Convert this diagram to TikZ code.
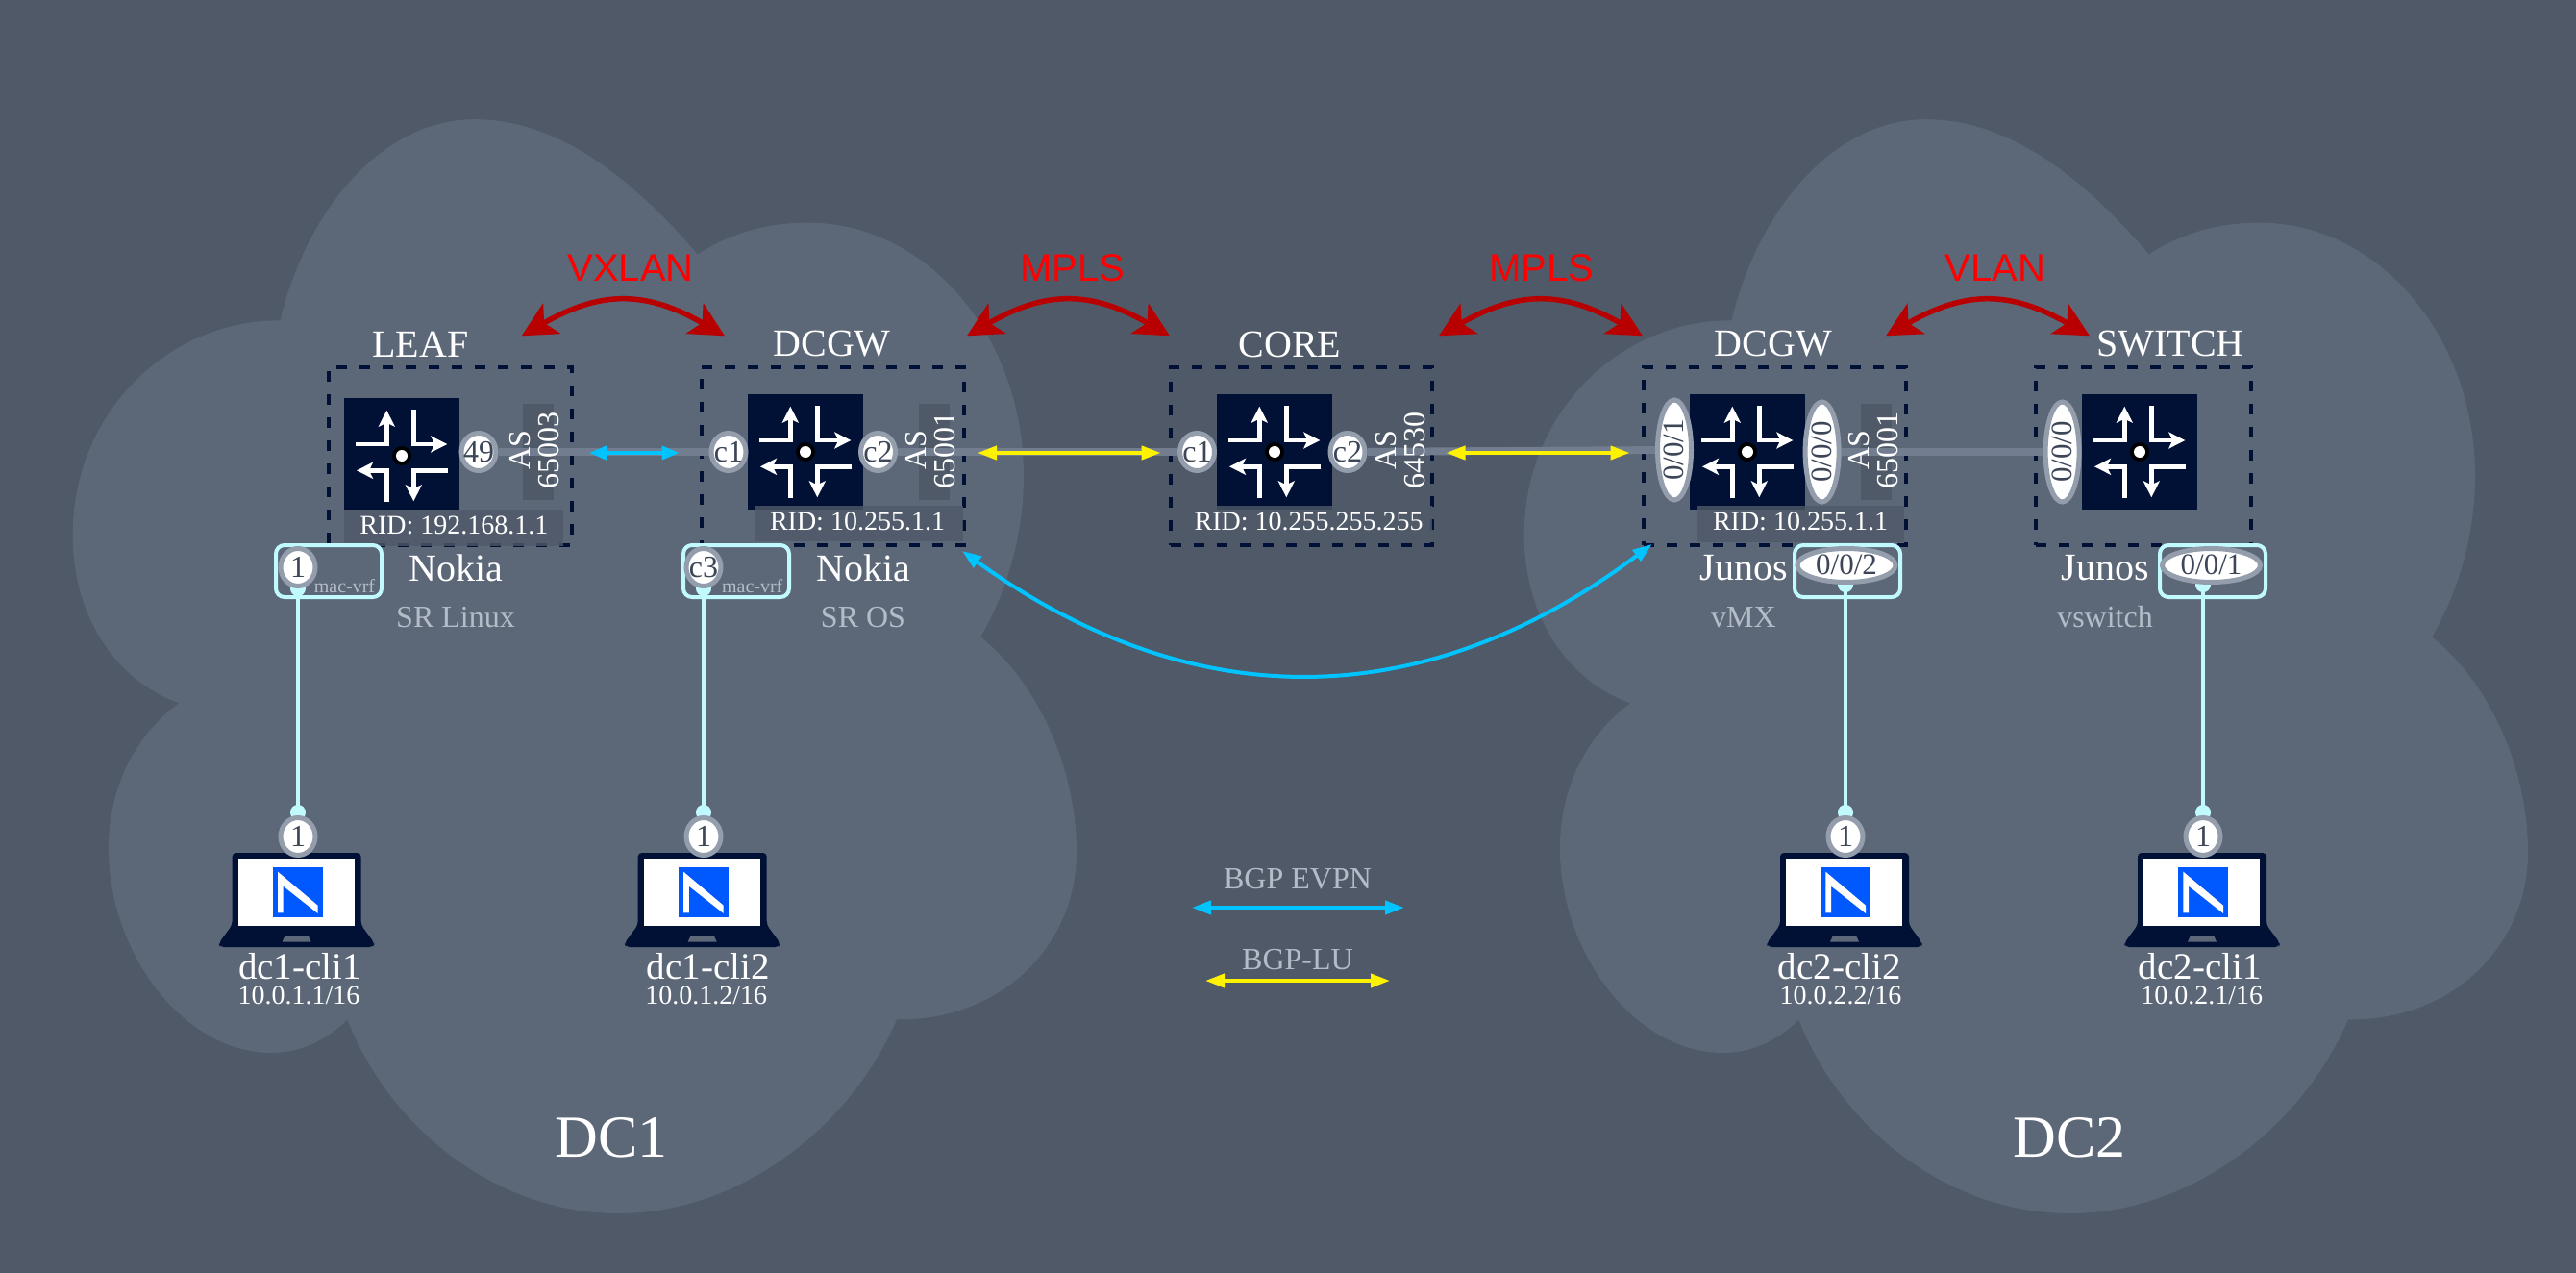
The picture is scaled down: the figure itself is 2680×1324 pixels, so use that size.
\documentclass[tikz,border=0pt]{standalone}
\usepackage{fontspec}
\setmainfont{Liberation Serif}
\newfontfamily\arialf{Liberation Sans}
\usetikzlibrary{arrows.meta,shapes.geometric}
\definecolor{bgc}{HTML}{4F5968}
\definecolor{cloudc}{HTML}{5C6778}
\definecolor{navyc}{HTML}{001135}
\definecolor{ringc}{HTML}{949DAC}
\definecolor{portt}{HTML}{3C4657}
\definecolor{subc}{HTML}{B4BCC8}
\definecolor{stemc}{HTML}{C0FAFF}
\definecolor{evpnc}{HTML}{00C3FF}
\definecolor{darkred}{HTML}{B80000}
\definecolor{bandc}{HTML}{727D8F}
\definecolor{logoc}{HTML}{0058FF}
\pgfdeclarelayer{under}
\pgfdeclarelayer{links}
\pgfsetlayers{under,links,main}
\newcommand\fs[1]{\fontsize{#1pt}{#1pt}\selectfont}
\newcommand\pl[1]{\raisebox{-.32em}[0pt][0pt]{\makebox[0pt][c]{#1}}}
\newcommand\cloudshape{
  (291.4,333.4) .. controls (320,215) and (400,124) .. (493.6,124.2)
  .. controls (590,124) and (670,200) .. (725.7,264.5)
  .. controls (760,242) and (800,231.6) .. (840,231.6)
  .. controls (965,231.6) and (1065,350) .. (1065,495.6)
  .. controls (1065,555) and (1048,615) .. (1020,662.4)
  .. controls (1080,710) and (1120,800) .. (1120,885.9)
  .. controls (1120,985) and (1040,1062) .. (932.9,1060.4)
  .. controls (885,1172) and (770,1262) .. (643.6,1262)
  .. controls (515,1262) and (405,1172) .. (361.4,1060.4)
  .. controls (340,1082) and (312,1095) .. (283,1095)
  .. controls (190,1095) and (112.9,990) .. (112.9,882)
  .. controls (113,820) and (140,765) .. (186.4,731.3)
  .. controls (120,708) and (75.7,640) .. (75.7,556.8)
  .. controls (75.7,425) and (180,332) .. (291.4,333.4) -- cycle}
\tikzset{
  dashbox/.style={draw=navyc,line width=4pt,dash pattern=on 11pt off 13pt,minimum height=185pt,inner sep=0pt},
  routerbody/.style={fill=navyc,inner sep=0pt},
  asrect/.style={fill=bgc,minimum width=32pt,minimum height=100pt,inner sep=0pt},
  ridrect/.style={fill=bgc,fill opacity=.8,inner sep=0pt},
  asl/.style={rotate=90,text=white,font=\fs{32},align=center,inner sep=0pt},
  lab40/.style={text=white,font=\fs{40},inner sep=0pt},
  lab28/.style={text=white,font=\fs{28},inner sep=0pt},
  lab32/.style={text=subc,font=\fs{32},inner sep=0pt},
  red40/.style={text=red,font={\arialf\fs{40}},inner sep=0pt},
  dc/.style={text=white,font=\fs{62},inner sep=0pt},
  vrf/.style={text=subc,font=\fs{20},inner sep=0pt},
  port/.style={ellipse,draw=ringc,fill=white,line width=5pt,text=portt,font=\fs{32},inner sep=0pt,minimum width=36pt,minimum height=39pt},
  vport/.style={port,rotate=90,font=\fs{31},minimum width=104pt,minimum height=35pt},
  hport/.style={port,font=\fs{31},minimum width=102pt,minimum height=35pt},
  vrfbox/.style={draw=stemc,line width=4pt,rounded corners=9pt,minimum width=110pt,minimum height=54pt,inner sep=0pt},
  band/.style={draw=bandc,line width=8pt},
  stem/.style={draw=stemc,fill=stemc,line width=4pt,{Circle[length=16pt,width=16pt]}-{Circle[length=16pt,width=16pt]},shorten <=-8pt,shorten >=-5pt},
  evpn/.style={draw=evpnc,line width=4pt,{Triangle[length=20pt,width=14pt]}-{Triangle[length=20pt,width=14pt]}},
  lu/.style={draw=yellow,line width=4pt,{Triangle[length=20pt,width=14pt]}-{Triangle[length=20pt,width=14pt]}},
  redarc/.style={draw=darkred,line width=5.5pt,{Stealth[length=36pt,width=36pt,inset=9pt]}-{Stealth[length=36pt,width=36pt,inset=9pt]}},
  iconline/.style={draw=white,line width=4.5pt,miter limit=10},
  iconarrow/.style={iconline,-{Stealth[length=17pt,width=17pt,inset=4pt]}}
}
% #1 centre x, #2 centre y of the crossing
\newcommand\rticon[2]{
  \begin{scope}[shift={(#1,#2)}]
    \draw[iconarrow] (-47.7,-12) -- (-15.7,-12) -- (-15.7,-47.3);
    \draw[iconarrow] (12.3,-48) -- (12.3,-12) -- (47.3,-12);
    \draw[iconarrow] (-15.7,48) -- (-15.7,15.3) -- (-47,15.3);
    \draw[iconarrow] (48.3,15.3) -- (12.3,15.3) -- (12.3,47.3);
    \fill[black] (0,0) circle[radius=10pt];
    \fill[white] (0,0) circle[radius=6pt];
  \end{scope}
}
% #1 centre x of the laptop
\newcommand\lapt[1]{
  \begin{scope}[shift={(#1,0)}]
    \fill[navyc,rounded corners=4pt] (-67,962) -- (-67,887) -- (67,887) -- (67,962) -- (81,981) -- (80,985) -- (-80,985) -- (-81,981) -- cycle;
    \fill[white] (-61,893) rectangle (60,963);
    \fill[cloudc] (-12,973) -- (12,973) -- (15,979.5) -- (-15,979.5) -- cycle;
    \fill[logoc] (-25,902.3) rectangle (27,954.3);
    \fill[white] (-19.6,906.7) -- (22,941.7) -- (22,950) -- (-13.9,921.7) -- (-13.9,949.3) -- (-19.6,949.3) -- cycle;
  \end{scope}
}
\begin{document}
\begin{tikzpicture}[x=1pt,y=-1pt]
\useasboundingbox (0,0) rectangle (2680,1324);
\begin{pgfonlayer}{under}
  \fill[bgc] (0,0) rectangle (2680,1324);
  \fill[cloudc] \cloudshape;
  \begin{scope}[shift={(1510,0)}]
    \fill[cloudc] \cloudshape;
  \end{scope}
  \node[dashbox,minimum width=253.4pt] (boxleaf) at (468.3,474.2) {};
  \node[dashbox,minimum width=273.2pt] (boxgwa) at (866.4,474.2) {};
  \node[dashbox,minimum width=272pt] (boxcore) at (1354,474.2) {};
  \node[dashbox,minimum width=272.7pt] (boxgwb) at (1846.3,474.2) {};
  \node[dashbox,minimum width=224.5pt] (boxsw) at (2229.75,474.2) {};
  \node[asrect] (asrleaf) at (560,470) {};
  \node[asrect] (asrgwa) at (972,470) {};
  \node[asrect] (asrgwb) at (1952,470) {};
\end{pgfonlayer}

% routers
\node[routerbody,minimum width=120pt,minimum height=116pt] (rleaf) at (418,472) {};
\rticon{418}{474}
\node[routerbody,minimum width=120pt,minimum height=120pt] (rgwa) at (838,470) {};
\rticon{838}{470}
\node[routerbody,minimum width=120pt,minimum height=120pt] (rcore) at (1326,470) {};
\rticon{1326}{470}
\node[routerbody,minimum width=120pt,minimum height=120pt] (rgwb) at (1818,470) {};
\rticon{1818}{470}
\node[routerbody,minimum width=120pt,minimum height=120pt] (rsw) at (2226,470) {};
\rticon{2226}{470}

% RID
\node[ridrect,minimum width=228pt,minimum height=38pt] (ridra) at (472,549) {};
\node[lab28] (rida) at (472.4,546.5) {RID: 192.168.1.1};
\node[ridrect,minimum width=215.5pt,minimum height=37pt] (ridrb) at (894,544.5) {};
\node[lab28] (ridb) at (892,542.5) {RID: 10.255.1.1};
\node[ridrect,minimum width=224pt,minimum height=38pt] (ridrc) at (1378,545) {};
\node[lab28] (ridc) at (1361.6,542.5) {RID: 10.255.255.255};
\node[ridrect,minimum width=215pt,minimum height=38pt] (ridrd) at (1873.5,545) {};
\node[lab28] (ridd) at (1873,542.5) {RID: 10.255.1.1};

% AS
\node[asl] (asa) at (556.5,468) {AS\\[-2pt]65003};
\node[asl] (asb) at (968.5,468) {AS\\[-2pt]65001};
\node[asl] (asc) at (1457.5,468) {AS\\[-2pt]64530};
\node[asl] (asd) at (1949.5,468) {AS\\[-2pt]65001};

% titles
\node[lab40] (tleaf) at (437.5,358) {LEAF};
\node[lab40] (tgwa) at (865.6,358) {DCGW};
\node[lab40] (tcore) at (1342,358) {CORE};
\node[lab40] (tgwb) at (1845,358) {DCGW};
\node[lab40] (tsw) at (2258,358) {SWITCH};
\node[lab40] (va) at (474,591) {Nokia};
\node[lab40] (vb) at (898,591) {Nokia};
\node[lab40] (vc) at (1814,591) {Junos};
\node[lab40] (vd) at (2190,591) {Junos};
\node[lab32] (sa) at (474,641.7) {SR Linux};
\node[lab32] (sb) at (898,641.7) {SR OS};
\node[lab32] (sc) at (1814,641.7) {vMX};
\node[lab32] (sd) at (2190,641.7) {vswitch};
\node[red40] (xa) at (656,279) {VXLAN};
\node[red40] (xb) at (1116,279) {MPLS};
\node[red40] (xc) at (1604,279) {MPLS};
\node[red40] (xd) at (2076,279) {VLAN};
\node[dc] (dca) at (636,1183) {DC1};
\node[dc] (dcb) at (2153,1183) {DC2};

% mac-vrf and port boxes
\node[vrfbox] (vrfa) at (342,594) {};
\node[vrfbox] (vrfb) at (766,594) {};
\node[vrfbox] (vrfc) at (1922,594) {};
\node[vrfbox] (vrfd) at (2302,594) {};
\node[vrf] (mva) at (358.5,610) {mac-vrf};
\node[vrf] (mvb) at (782.7,610) {mac-vrf};

% link ports
\node[port] (p49) at (498,470) {\pl{49}};
\node[port] (pc1) at (758,470) {\pl{c1}};
\node[port] (pc2) at (913.5,470) {\pl{c2}};
\node[port] (qc1) at (1245.5,470) {\pl{c1}};
\node[port] (qc2) at (1402,470) {\pl{c2}};
\node[vport] (p001) at (1742,468) {\pl{0/0/1}};
\node[vport] (p000) at (1895.6,470) {\pl{0/0/0}};
\node[vport] (s000) at (2145.6,470) {\pl{0/0/0}};

% access ports
\node[port] (a1) at (310,590) {\pl{1}};
\node[port] (a3) at (732,590) {\pl{c3}};
\node[hport] (a002) at (1921,588) {\pl{0/0/2}};
\node[hport] (a001) at (2300.5,588) {\pl{0/0/1}};

% laptops
\lapt{308.6}
\lapt{730.7}
\lapt{1919}
\lapt{2291}
\node[port] (l1) at (310,870) {\pl{1}};
\node[port] (l2) at (732,870) {\pl{1}};
\node[port] (l3) at (1920,870) {\pl{1}};
\node[port] (l4) at (2292,870) {\pl{1}};
\node[lab40,font=\fs{39}] (na) at (312,1005) {dc1-cli1};
\node[lab40,font=\fs{39}] (nb) at (736.7,1005) {dc1-cli2};
\node[lab40,font=\fs{39}] (nc) at (1913.6,1005) {dc2-cli2};
\node[lab40,font=\fs{39}] (nd) at (2288.6,1005) {dc2-cli1};
\node[lab28] (ia) at (311,1035) {10.0.1.1/16};
\node[lab28] (ib) at (734.7,1035) {10.0.1.2/16};
\node[lab28] (ic) at (1915,1035) {10.0.2.2/16};
\node[lab28] (id) at (2290.7,1035) {10.0.2.1/16};

% legend
\node[lab32] (lega) at (1350,914) {BGP EVPN};
\node[lab32] (legb) at (1350,998) {BGP-LU};
\coordinate (lega1) at (1240,944);
\coordinate (lega2) at (1461,944);
\coordinate (legb1) at (1254,1020);
\coordinate (legb2) at (1446,1020);
\draw[evpn] (lega1) -- (lega2);
\draw[lu] (legb1) -- (legb2);

% links
\begin{pgfonlayer}{links}
  \draw[band] (p49) -- (pc1);
  \draw[band] (pc2) -- (qc1);
  \draw[band] (qc2) -- (p001);
  \draw[band] (p000) -- (s000);
  \draw[stem] (a1) -- (l1);
  \draw[stem] (a3) -- (l2);
  \draw[stem] (l3 |- a002.south) -- (l3);
  \draw[stem] (l4 |- a001.south) -- (l4);
\end{pgfonlayer}

% protocol arrows
\coordinate (e1) at (613,471);
\coordinate (e2) at (706.6,471);
\draw[evpn,{Triangle[length=18pt,width=14pt]}-{Triangle[length=18pt,width=14pt]}] (e1) -- (e2);
\coordinate (y1) at (1017,471);
\coordinate (y2) at (1207.6,471);
\draw[lu] (y1) -- (y2);
\coordinate (y3) at (1504.5,471);
\coordinate (y4) at (1695.5,471);
\draw[lu] (y3) -- (y4);
\coordinate (e3) at (1001,573);
\coordinate (e4) at (1718.6,566);
\draw[evpn] (e3) .. controls (1240,745) and (1480,745) .. (e4);

% red arcs
\coordinate (ra1) at (542.7,349.3);
\coordinate (ra2) at (754,349.3);
\draw[redarc] (ra1) .. controls (625,302) and (672,302) .. (ra2);
\coordinate (rb1) at (1006,349.3);
\coordinate (rb2) at (1217,349.3);
\draw[redarc] (rb1) .. controls (1088,302) and (1135,302) .. (rb2);
\coordinate (rc1) at (1497,349.3);
\coordinate (rc2) at (1709,349.3);
\draw[redarc] (rc1) .. controls (1580,302) and (1626,302) .. (rc2);
\coordinate (rd1) at (1962,349.3);
\coordinate (rd2) at (2174,349.3);
\draw[redarc] (rd1) .. controls (2045,302) and (2091,302) .. (rd2);
\end{tikzpicture}
\end{document}
